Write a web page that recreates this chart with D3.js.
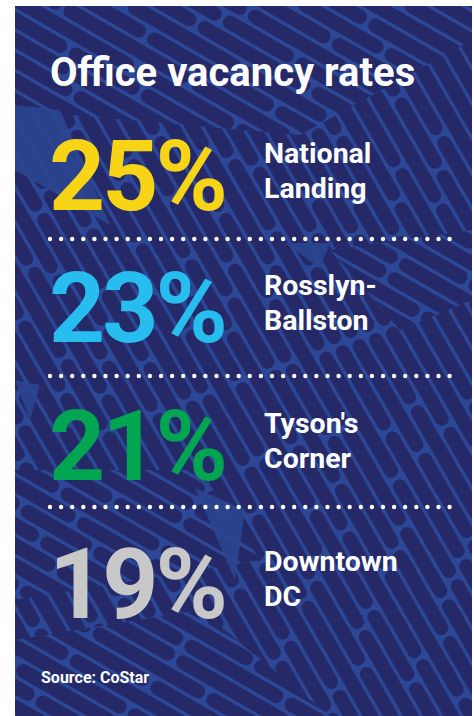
<!DOCTYPE html>
<html>
<head>
<meta charset="utf-8">
<script src="https://cdn.jsdelivr.net/npm/d3@7"></script>
<style>
  body { margin: 0; background: #fff; }
  text { font-family: Roboto, "Noto Sans", sans-serif; font-weight: 700; }
</style>
</head>
<body>
<div id="chart"></div>
<script>
var title = "Office vacancy rates";
var areas = ["National Landing", "Rosslyn-Ballston", "Tyson's Corner", "Downtown DC"];
var areaLines = [["National", "Landing"], ["Rosslyn-", "Ballston"], ["Tyson's", "Corner"], ["Downtown", "DC"]];
var vacancy = [25, 23, 21, 19];
var rateColors = ["#f8d417", "#27bdee", "#00a551", "#c8c8c8"];
var source = "Source: CoStar";

var width = 474, height = 716;
var panel = {x: 15, y: 6, w: 457, h: 710};
var lineColor = '#2c4795';
var cellColor = '#252968';
var sepY = [239, 376, 507];

var svg = d3.select('#chart').append('svg')
    .attr('width', width)
    .attr('height', height);

var defs = svg.append('defs');
defs.append('clipPath').attr('id', 'panelClip')
    .append('rect')
    .attr('x', panel.x).attr('y', panel.y)
    .attr('width', panel.w).attr('height', panel.h);

// regions of the woven background: shallow strokes vs steep strokes
var shallowAreas = [
    [[15, 6], [472, 6], [472, 40], [300, 135], [15, 110]],
    [[15, 470], [200, 470], [260, 560], [15, 600]],
    [[15, 640], [200, 610], [330, 716], [15, 716]],
    [[330, 250], [472, 230], [472, 300], [400, 330]]
];
defs.append('clipPath').attr('id', 'shallowClip')
    .selectAll('polygon')
    .data(shallowAreas)
    .enter().append('polygon')
    .attr('points', function (d) { return d.join(' '); });

var bg = svg.append('g').attr('clip-path', 'url(#panelClip)');
bg.append('rect')
    .attr('x', panel.x).attr('y', panel.y)
    .attr('width', panel.w).attr('height', panel.h)
    .attr('fill', lineColor);

function weave(group, angle, seed) {
    var cells = [];
    for (var k = -45; k <= 45; k++) {
        var v = -600 - ((k * 29 + seed) % 80 + 80) % 80;
        var j = 0;
        while (v < 600) {
            var len = 80 + ((k * 7 + j * 13 + seed) % 5 + 5) % 5 * 16;
            cells.push({u: k * 17.5, v: v, len: len});
            v += len + 3.5;
            j++;
        }
    }
    group.append('g')
        .attr('transform', 'translate(' + (width / 2) + ',' + (height / 2) + ') rotate(' + angle + ')')
        .selectAll('rect')
        .data(cells)
        .enter().append('rect')
        .attr('x', function (d) { return d.u; })
        .attr('y', function (d) { return d.v; })
        .attr('width', 14)
        .attr('height', function (d) { return d.len; })
        .attr('rx', 7)
        .attr('fill', cellColor);
}

var steep = bg.append('g');
weave(steep, -30, 3);
var shallow = bg.append('g').attr('clip-path', 'url(#shallowClip)');
shallow.append('rect')
    .attr('x', panel.x).attr('y', panel.y)
    .attr('width', panel.w).attr('height', panel.h)
    .attr('fill', lineColor);
weave(shallow, -60, 11);

// lighter folds in the weave
var folds = [
    [[15, 105], [60, 110], [110, 225], [15, 170]],
    [[285, 243], [330, 243], [320, 268]],
    [[195, 488], [245, 510], [235, 580]],
    [[15, 380], [40, 385], [30, 420]]
];
bg.selectAll('polygon.fold')
    .data(folds)
    .enter().append('polygon')
    .attr('class', 'fold')
    .attr('points', function (d) { return d.join(' '); })
    .attr('fill', '#2b4590')
    .attr('opacity', 0.9);

// title
svg.append('text')
    .attr('x', 50)
    .attr('y', 86)
    .attr('fill', '#fff')
    .style('font-size', '40px')
    .text(title);

// rows: baselines of the big numbers
var y = d3.scaleOrdinal()
    .domain(areas)
    .range([210, 342, 480, 618]);

var rows = svg.selectAll('g.row')
    .data(areas)
    .enter().append('g')
    .attr('class', 'row')
    .attr('transform', function (d) { return 'translate(0,' + y(d) + ')'; });

rows.append('text')
    .attr('x', 225)
    .attr('y', 0)
    .attr('text-anchor', 'end')
    .attr('fill', function (d, i) { return rateColors[i]; })
    .style('font-size', '98px')
    .style('letter-spacing', '-3px')
    .text(function (d, i) { return vacancy[i] + '%'; });

rows.each(function (d, i) {
    d3.select(this).selectAll('text.label')
        .data(areaLines[i])
        .enter().append('text')
        .attr('class', 'label')
        .attr('x', 264)
        .attr('y', function (l, j) { return -47 + j * 35; })
        .attr('fill', '#fff')
        .style('font-size', '28.5px')
        .text(function (l) { return l; });
});

// dotted separators
sepY.forEach(function (sy) {
    svg.append('g').selectAll('circle')
        .data(d3.range(37))
        .enter().append('circle')
        .attr('cx', function (k) { return 50 + k * 11.1; })
        .attr('cy', sy)
        .attr('r', 2.2)
        .attr('fill', '#fff');
});

svg.append('text')
    .attr('x', 41)
    .attr('y', 683)
    .attr('fill', '#fff')
    .style('font-size', '16px')
    .text(source);
</script>
</body>
</html>
